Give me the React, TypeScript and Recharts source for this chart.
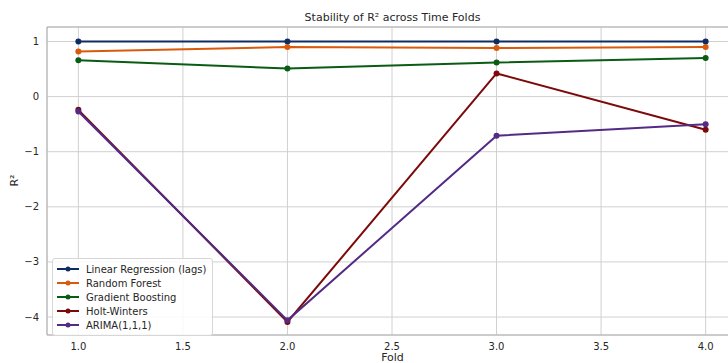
import { LineChart, Line, XAxis, YAxis, CartesianGrid, ReferenceLine } from 'recharts'

const folds = [1, 2, 3, 4]
const linearRegression = [1.0, 1.0, 1.0, 1.0]
const randomForest = [0.82, 0.9, 0.88, 0.9]
const gradientBoosting = [0.66, 0.51, 0.62, 0.7]
const holtWinters = [-0.24, -4.09, 0.42, -0.6]
const arima = [-0.27, -4.06, -0.71, -0.5]

const xTicks = [1.0, 1.5, 2.0, 2.5, 3.0, 3.5, 4.0]
const yTicks = [-4, -3, -2, -1, 0, 1]

const series = [
  { key: 'lr', name: 'Linear Regression (lags)', color: '#0f2c62', values: linearRegression },
  { key: 'rf', name: 'Random Forest', color: '#d95a0b', values: randomForest },
  { key: 'gb', name: 'Gradient Boosting', color: '#0a5c14', values: gradientBoosting },
  { key: 'hw', name: 'Holt-Winters', color: '#7d0a0a', values: holtWinters },
  { key: 'ar', name: 'ARIMA(1,1,1)', color: '#532a85', values: arima },
]

const data = folds.map((f, i) => {
  const row: Record<string, number> = { fold: f }
  series.forEach(s => { row[s.key] = s.values[i] })
  return row
})

const font = 'DejaVu Sans, sans-serif'
const tickStyle = { fill: '#262626', fontSize: 10, fontFamily: font }

function LegendBox() {
  return (
    <div style={{
      position: 'absolute', left: 52, top: 258,
      border: '1px solid #d6d6d6', borderRadius: 3, background: 'rgba(255,255,255,0.85)',
      padding: '3px 6px 3px 4px', fontFamily: font, fontSize: 10, color: '#262626',
    }}>
      {series.map(s => (
        <div key={s.key} style={{ display: 'flex', alignItems: 'center', height: 14 }}>
          <svg width={22} height={10} style={{ marginRight: 7 }}>
            <line x1={0} y1={5} x2={22} y2={5} stroke={s.color} strokeWidth={2} />
            <circle cx={11} cy={5} r={2.5} fill={s.color} />
          </svg>
          <span>{s.name}</span>
        </div>
      ))}
    </div>
  )
}

export default function App() {
  return (
    <div style={{ position: 'absolute', left: 0, top: 0, width: 728, height: 363, overflow: 'hidden', background: '#fff' }}>
      <div style={{ position: 'absolute', left: 0, top: 11, width: 785, textAlign: 'center', fontFamily: font, fontSize: 11, color: '#262626' }}>
        Stability of R² across Time Folds
      </div>
      <div style={{ position: 'absolute', left: 8, top: 174, transform: 'rotate(-90deg)', fontFamily: font, fontSize: 11, color: '#262626' }}>
        R²
      </div>
      <div style={{ position: 'absolute', left: 0, top: 351, width: 785, textAlign: 'center', fontFamily: font, fontSize: 11, color: '#262626' }}>
        Fold
      </div>
      <LineChart width={760} height={363} data={data} margin={{ top: 27, right: 23, left: 0, bottom: 0 }}>
        <CartesianGrid stroke="#d0d0d0" strokeWidth={1} />
        <XAxis
          dataKey="fold" type="number" domain={[0.85, 4.15]} ticks={xTicks} height={28}
          tickFormatter={v => v.toFixed(1)} tick={tickStyle}
          axisLine={{ stroke: '#b0b0b0' }} tickLine={false} allowDataOverflow
        />
        <YAxis
          type="number" domain={[-4.326, 1.263]} ticks={yTicks} width={47}
          tickFormatter={v => String(v).replace('-', '\u2212')} tick={tickStyle}
          axisLine={{ stroke: '#b0b0b0' }} tickLine={false} allowDataOverflow
        />
        <ReferenceLine y={1.263} stroke="#b0b0b0" />
        {series.map(s => (
          <Line
            key={s.key} dataKey={s.key} name={s.name} stroke={s.color} strokeWidth={2}
            dot={{ r: 3, fill: s.color, stroke: s.color, strokeWidth: 0 }}
            isAnimationActive={false}
          />
        ))}
      </LineChart>
      <LegendBox />
    </div>
  )
}
